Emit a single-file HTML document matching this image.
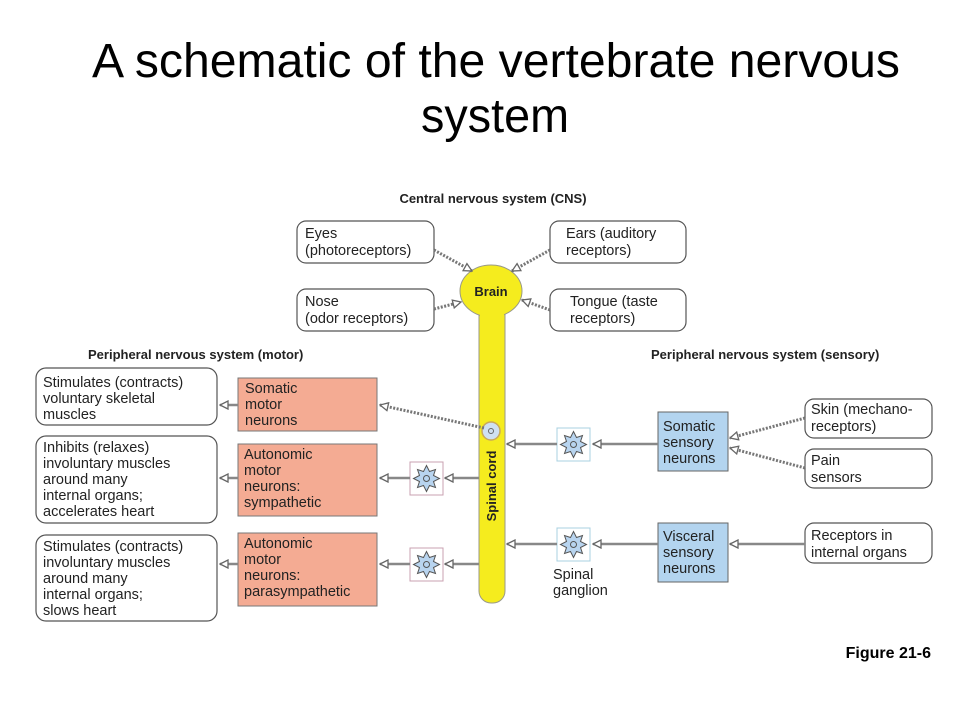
<!DOCTYPE html>
<html><head><meta charset="utf-8"><style>
html,body{margin:0;padding:0;background:#fff;width:960px;height:720px;overflow:hidden}
svg{display:block}
.t{font-family:"Liberation Sans",Arial,sans-serif;fill:#222;font-size:14.5px}
.b{font-family:"Liberation Sans",Arial,sans-serif;font-weight:bold;fill:#222;font-size:13px}
.box{fill:#fff;stroke:#555;stroke-width:1.2}
.ln{stroke:#888;stroke-width:2.5;fill:none}
.dl{stroke:#777;stroke-width:3;fill:none;stroke-dasharray:2 1.5}
</style></head><body>
<svg width="960" height="720" viewBox="0 0 960 720" xmlns="http://www.w3.org/2000/svg">
<defs>
<marker id="ah" viewBox="0 0 10 10" refX="9" refY="5" markerWidth="10" markerHeight="10" markerUnits="userSpaceOnUse" orient="auto">
<path d="M1,1 L9,5 L1,9 Z" fill="#fff" stroke="#666" stroke-width="1.3"/>
</marker>
<g id="nr">
<polygon points="0,-13 3,-7 9,-9 7,-3 13,0 7,3 9,9 3,7 0,13 -3,7 -9,9 -7,3 -13,0 -7,-3 -9,-9 -3,-7" fill="#b8d4ef" stroke="#555" stroke-width="1"/>
<circle r="3" fill="none" stroke="#555" stroke-width="1"/>
</g>
</defs>

<text x="496" y="77" text-anchor="middle" font-family="'Liberation Sans Narrow','Liberation Sans',Arial,sans-serif" font-size="48" textLength="808" lengthAdjust="spacingAndGlyphs" fill="#000">A schematic of the vertebrate nervous</text>
<text x="495" y="132" text-anchor="middle" font-family="'Liberation Sans Narrow','Liberation Sans',Arial,sans-serif" font-size="48" textLength="148" lengthAdjust="spacingAndGlyphs" fill="#000">system</text>

<text class="b" x="493" y="203" text-anchor="middle">Central nervous system (CNS)</text>

<rect class="box" x="297" y="221" width="137" height="42" rx="9"/>
<text class="t" x="305" y="238">Eyes</text><text class="t" x="305" y="255">(photoreceptors)</text>
<rect class="box" x="550" y="221" width="136" height="42" rx="9"/>
<text class="t" x="566" y="238">Ears (auditory</text><text class="t" x="566" y="255">receptors)</text>
<rect class="box" x="297" y="289" width="137" height="42" rx="9"/>
<text class="t" x="305" y="306">Nose</text><text class="t" x="305" y="323">(odor receptors)</text>
<rect class="box" x="550" y="289" width="136" height="42" rx="9"/>
<text class="t" x="570" y="306">Tongue (taste</text><text class="t" x="570" y="323">receptors)</text>

<rect x="479" y="300" width="26" height="303" rx="12" fill="#f5ec1e" stroke="#998" stroke-width="1"/>
<ellipse cx="491" cy="291" rx="31" ry="26" fill="#f5ec1e" stroke="#998" stroke-width="1"/>
<rect x="480" y="305" width="24" height="20" fill="#f5ec1e"/>
<text class="b" x="491" y="296" text-anchor="middle" font-size="14">Brain</text>
<text class="b" x="0" y="0" font-size="14" text-anchor="middle" transform="translate(496,486) rotate(-90)">Spinal cord</text>
<circle cx="491" cy="431" r="9" fill="#cfe0f2" stroke="#c9a85a" stroke-width="1.5"/>
<circle cx="491" cy="431" r="2.5" fill="none" stroke="#666"/>

<line class="dl" x1="434" y1="250" x2="472" y2="271" marker-end="url(#ah)"/>
<line class="dl" x1="550" y1="250" x2="512" y2="271" marker-end="url(#ah)"/>
<line class="dl" x1="434" y1="309" x2="461" y2="302" marker-end="url(#ah)"/>
<line class="dl" x1="550" y1="310" x2="522" y2="300" marker-end="url(#ah)"/>

<text class="b" x="88" y="359">Peripheral nervous system (motor)</text>
<text class="b" x="651" y="359">Peripheral nervous system (sensory)</text>

<rect class="box" x="36" y="368" width="181" height="57" rx="10"/>
<text class="t" x="43" y="387">Stimulates (contracts)</text><text class="t" x="43" y="403">voluntary skeletal</text><text class="t" x="43" y="419">muscles</text>
<rect class="box" x="36" y="436" width="181" height="87" rx="10"/>
<text class="t" x="43" y="452">Inhibits (relaxes)</text><text class="t" x="43" y="468">involuntary muscles</text><text class="t" x="43" y="484">around many</text><text class="t" x="43" y="500">internal organs;</text><text class="t" x="43" y="516">accelerates heart</text>
<rect class="box" x="36" y="535" width="181" height="86" rx="10"/>
<text class="t" x="43" y="551">Stimulates (contracts)</text><text class="t" x="43" y="567">involuntary muscles</text><text class="t" x="43" y="583">around many</text><text class="t" x="43" y="599">internal organs;</text><text class="t" x="43" y="615">slows heart</text>

<rect x="238" y="378" width="139" height="53" fill="#f4ab93" stroke="#777" stroke-width="1"/>
<text class="t" x="245" y="393">Somatic</text><text class="t" x="245" y="409">motor</text><text class="t" x="245" y="425">neurons</text>
<rect x="238" y="444" width="139" height="72" fill="#f4ab93" stroke="#777" stroke-width="1"/>
<text class="t" x="244" y="459">Autonomic</text><text class="t" x="244" y="475">motor</text><text class="t" x="244" y="491">neurons:</text><text class="t" x="244" y="507">sympathetic</text>
<rect x="238" y="533" width="139" height="73" fill="#f4ab93" stroke="#777" stroke-width="1"/>
<text class="t" x="244" y="548">Autonomic</text><text class="t" x="244" y="564">motor</text><text class="t" x="244" y="580">neurons:</text><text class="t" x="244" y="596">parasympathetic</text>

<line class="ln" x1="238" y1="405" x2="220" y2="405" marker-end="url(#ah)"/>
<line class="ln" x1="238" y1="478" x2="220" y2="478" marker-end="url(#ah)"/>
<line class="ln" x1="238" y1="564" x2="220" y2="564" marker-end="url(#ah)"/>
<line class="dl" x1="484" y1="428" x2="380" y2="405" marker-end="url(#ah)"/>

<rect x="410" y="462" width="33" height="33" fill="#fff" stroke="#c9a0b0" stroke-width="1"/>
<use href="#nr" x="426.5" y="478.5"/>
<rect x="410" y="548" width="33" height="33" fill="#fff" stroke="#c9a0b0" stroke-width="1"/>
<use href="#nr" x="426.5" y="564.5"/>
<line class="ln" x1="479" y1="478" x2="445" y2="478" marker-end="url(#ah)"/>
<line class="ln" x1="410" y1="478" x2="380" y2="478" marker-end="url(#ah)"/>
<line class="ln" x1="479" y1="564" x2="445" y2="564" marker-end="url(#ah)"/>
<line class="ln" x1="410" y1="564" x2="380" y2="564" marker-end="url(#ah)"/>

<rect x="557" y="428" width="33" height="33" fill="#fff" stroke="#a8d0e0" stroke-width="1"/>
<use href="#nr" x="573.5" y="444.5"/>
<rect x="557" y="528" width="33" height="33" fill="#fff" stroke="#a8d0e0" stroke-width="1"/>
<use href="#nr" x="573.5" y="544.5"/>
<text class="t" x="553" y="579">Spinal</text><text class="t" x="553" y="595">ganglion</text>

<rect x="658" y="412" width="70" height="59" fill="#b3d4ef" stroke="#666" stroke-width="1"/>
<text class="t" x="663" y="431">Somatic</text><text class="t" x="663" y="447">sensory</text><text class="t" x="663" y="463">neurons</text>
<rect x="658" y="523" width="70" height="59" fill="#b3d4ef" stroke="#666" stroke-width="1"/>
<text class="t" x="663" y="541">Visceral</text><text class="t" x="663" y="557">sensory</text><text class="t" x="663" y="573">neurons</text>

<line class="ln" x1="658" y1="444" x2="593" y2="444" marker-end="url(#ah)"/>
<line class="ln" x1="557" y1="444" x2="507" y2="444" marker-end="url(#ah)"/>
<line class="ln" x1="658" y1="544" x2="593" y2="544" marker-end="url(#ah)"/>
<line class="ln" x1="557" y1="544" x2="507" y2="544" marker-end="url(#ah)"/>

<rect class="box" x="805" y="399" width="127" height="39" rx="9"/>
<text class="t" x="811" y="414">Skin (mechano-</text><text class="t" x="811" y="431">receptors)</text>
<rect class="box" x="805" y="449" width="127" height="39" rx="9"/>
<text class="t" x="811" y="465">Pain</text><text class="t" x="811" y="482">sensors</text>
<rect class="box" x="805" y="523" width="127" height="40" rx="9"/>
<text class="t" x="811" y="540">Receptors in</text><text class="t" x="811" y="557">internal organs</text>

<line class="dl" x1="805" y1="418" x2="730" y2="438" marker-end="url(#ah)"/>
<line class="dl" x1="805" y1="468" x2="730" y2="448" marker-end="url(#ah)"/>
<line class="ln" x1="805" y1="544" x2="730" y2="544" marker-end="url(#ah)"/>

<text x="931" y="658" text-anchor="end" font-family="'Liberation Sans',Arial,sans-serif" font-weight="bold" font-size="16" fill="#000">Figure 21-6</text>
</svg>
</body></html>
